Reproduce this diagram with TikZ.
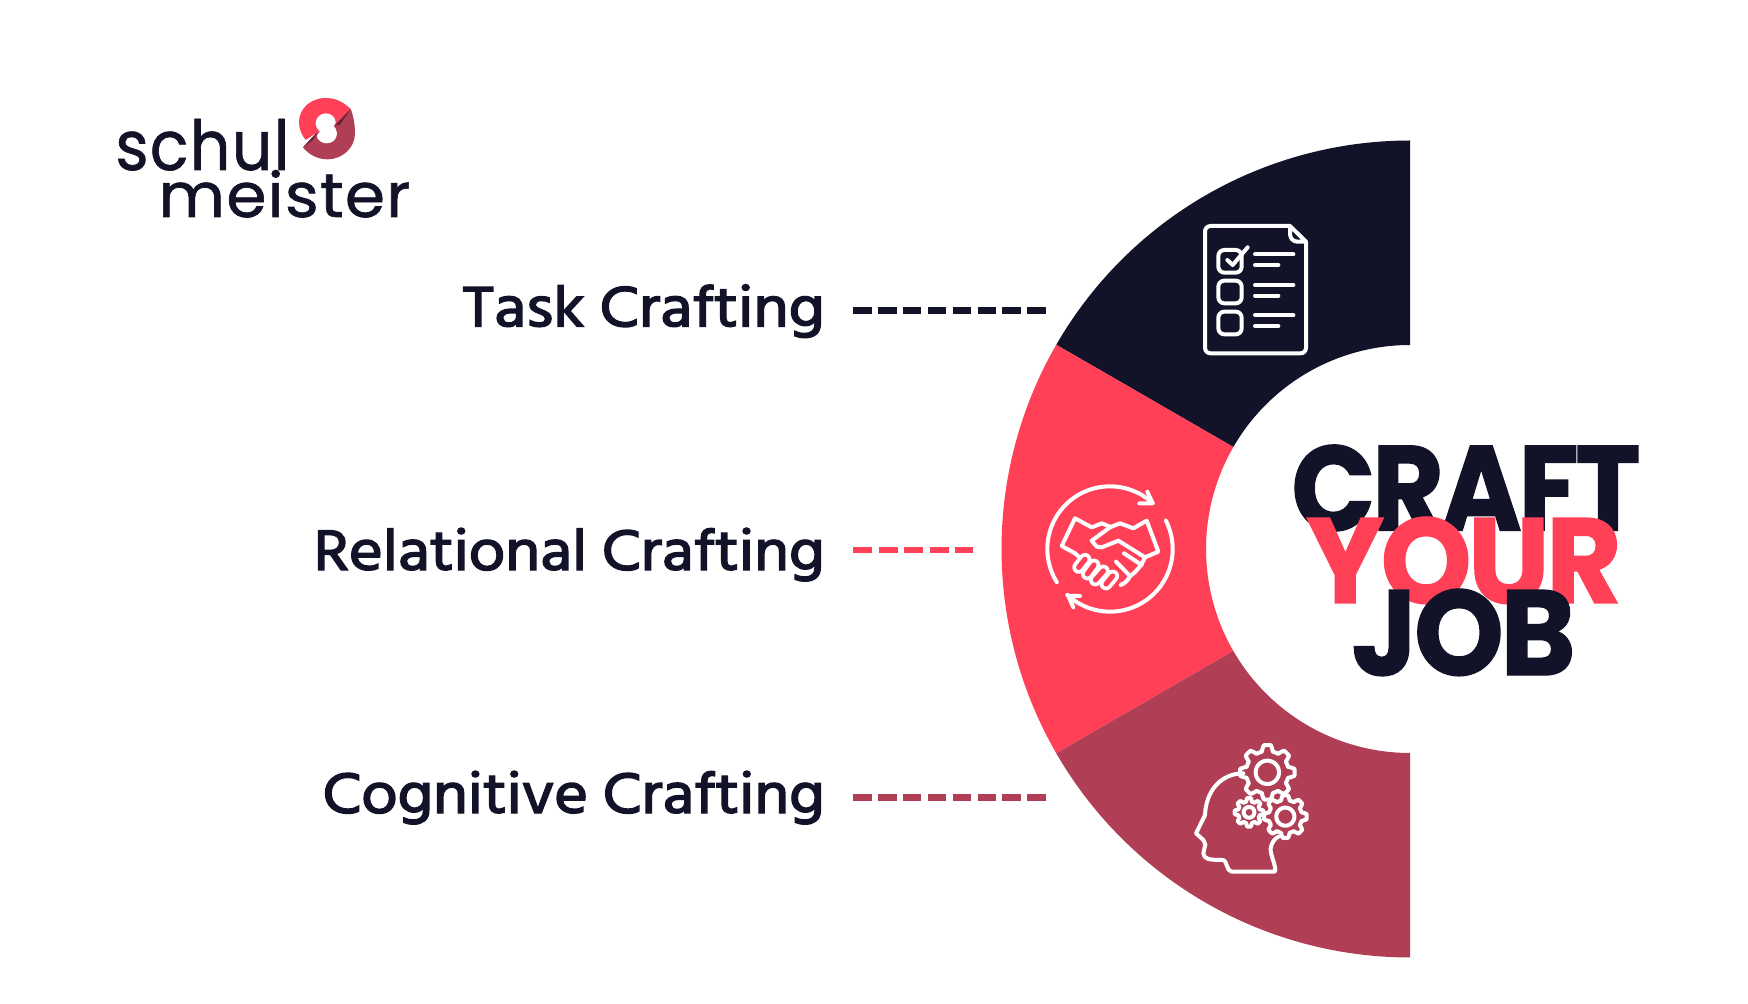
\documentclass[tikz,border=0pt]{standalone}
\usepackage{fontspec}
\usepackage{graphicx}
\setmainfont{Poppins}
\newfontfamily\labelfont{Hind Siliguri}[FakeBold=2.4]
\newfontfamily\titlefont{Poppins}[UprightFont=* Bold,LetterSpace=-3,FakeBold=1.2]
\newfontfamily\logofont{Poppins}[FakeBold=1.0,LetterSpace=2]
\definecolor{inkdark}{HTML}{121328}
\definecolor{redpink}{HTML}{FF4057}
\definecolor{maroon}{HTML}{B03F55}
\definecolor{darkwine}{HTML}{6E2036}
\newcommand{\sector}[3]{\fill[#1] plot[domain=#2:#3,samples=90] ({1410+408.5*cos(\x)},{549-408.5*sin(\x)}) -- plot[domain=#3:#2,samples=60] ({1410+204*cos(\x)},{549-204*sin(\x)}) -- cycle;}
\tikzset{
  x=0.5pt,y=-0.5pt,
  iconline/.style={draw=white,line width=2pt,line cap=round,line join=round},
  craftlabel/.style={inner sep=0,anchor=base east,text=inkdark,font=\labelfont},
  titleword/.style={inner sep=0,anchor=base west,font=\titlefont},
  logoword/.style={inner sep=0,anchor=base west,text=inkdark,font=\logofont},
  dashline/.style={line width=3.3pt,dash pattern=on 9.3pt off 3.15pt},
}
\begin{document}
\begin{tikzpicture}
\useasboundingbox (0,0) rectangle (1748,1004);
\fill[white] (0,0) rectangle (1748,1004);
% ring
\sector{inkdark}{90}{150}
\sector{redpink}{150}{210}
\sector{maroon}{210}{270}
% labels
\node[craftlabel] (task) at (825,326.5) {\resizebox{181pt}{21pt}{Task Crafting}};
\node[craftlabel] (rel) at (825,570) {\resizebox{255.5pt}{21pt}{Relational Crafting}};
\node[craftlabel] (cog) at (825,813) {\resizebox{251pt}{21pt}{Cognitive Crafting}};
% dashes
\coordinate (taskS) at (853,310.5); \coordinate (taskE) at (1046,310.5);
\coordinate (relS) at (853,550); \coordinate (relE) at (973,550);
\coordinate (cogS) at (853,797.5); \coordinate (cogE) at (1046,797.5);
\draw[dashline,draw=inkdark] (taskS) -- (taskE);
\draw[dashline,draw=redpink,dash pattern=on 9.5pt off 3.25pt] (relS) -- (relE);
\draw[dashline,draw=maroon] (cogS) -- (cogE);
% title
\node[titleword,text=inkdark] (craft) at (1291,530.5) {\resizebox{174.5pt}{42.8pt}{CRAFT}};
\node[titleword,text=redpink] (your) at (1306,603) {\resizebox{157.5pt}{43pt}{YOUR}};
\node[titleword,text=inkdark] (job) at (1351,675) {\resizebox{112pt}{43pt}{JOB}};
% logo text
\node[logoword] (schul) at (115,170) {\resizebox{87pt}{25.5pt}{schul}};
\node[logoword] (meister) at (158,217) {\resizebox{126pt}{23.5pt}{meister}};
% logo symbol
\begin{scope}[shift={(285,90)},scale=1/3]
 \fill[redpink] (197,57) .. controls (175,35) and (150,24) .. (122,24) .. controls (75,24) and (42,58) .. (42,96) .. controls (42,118) and (50,135) .. (62,150) -- (100,125) -- (152,100) -- cycle;
 \fill[maroon] (197,57) .. controls (205,75) and (210,105) .. (210,130) .. controls (210,175) and (170,208) .. (128,208) .. controls (95,208) and (70,192) .. (54,172) -- (95,128) -- (152,100) -- cycle;
 \fill[darkwine] (197,57) -- (150,106) -- (165,104) -- cycle;
 \fill[darkwine] (54,172) -- (96,127) -- (86,148) -- cycle;
 \fill[white] (122,70) .. controls (105,70) and (92,85) .. (92,100) .. controls (92,112) and (100,120) .. (105,125) .. controls (98,130) and (94,138) .. (96,142) .. controls (102,155) and (115,160) .. (125,160) .. controls (142,160) and (156,148) .. (156,130) .. controls (156,120) and (150,112) .. (146,108) .. controls (150,105) and (152,100) .. (152,96) .. controls (150,80) and (138,70) .. (122,70) -- cycle;
\end{scope}
% checklist icon
\begin{scope}[shift={(1180,210)},scale=1/3]
 \draw[iconline] (330,48) -- (92,48) .. controls (82,48) and (75,55) .. (75,65) -- (75,413) .. controls (75,423) and (82,430) .. (92,430) -- (361,430) .. controls (371,430) and (378,423) .. (378,413) -- (378,95) -- (330,48) -- (330,72) .. controls (330,85) and (340,95) .. (352,95) -- (378,95);
 \foreach \yy in {120,212,305} \draw[iconline,rounded corners=3pt] (115,\yy) rectangle (185,\yy+68);
 \draw[iconline] (142,150) -- (158,165) -- (203,112);
 \foreach \yy in {133,225,316} {
  \draw[iconline] (225,\yy) -- (340,\yy);
  \draw[iconline] (225,\yy+32) -- (295,\yy+32);
 }
\end{scope}
% handshake icon
\begin{scope}[shift={(1030,470)},scale=1/3]
 \draw[iconline] plot[domain=212:47,samples=60] ({240+188*cos(\x)},{237-188*sin(\x)});
 \draw[iconline] (352,65) -- (368,100) -- (328,100);
 \draw[iconline] plot[domain=27:-133,samples=60] ({240+188*cos(\x)},{237-188*sin(\x)});
 \draw[iconline] (150,378) -- (115,378) -- (130,412);
 % cuffs and hands
 \draw[iconline] (135,250) -- (95,228) -- (135,145) -- (185,172) -- (215,160) -- (240,170);
 \draw[iconline] (345,262) -- (385,245) -- (350,152) -- (310,175) -- (270,160) -- (240,172) -- (185,212) -- (200,230) -- (215,232) -- (265,212) -- (345,262) .. controls (335,285) and (320,305) .. (300,318) -- (258,275);
 \draw[iconline] (282,250) -- (335,285);
 \draw[iconline] (300,318) .. controls (295,330) and (285,340) .. (272,345);
 \draw[iconline] (135,250) -- (148,262);
 % fingers
 \foreach \ax/\ay/\bx/\by in {165/268/146/292,192/285/172/312,220/303/196/330,248/318/228/342}{
  \draw[line width=6.4pt,line cap=round,white] (\ax,\ay) -- (\bx,\by);
  \draw[line width=2.6pt,line cap=round,redpink] (\ax,\ay) -- (\bx,\by);
 }
\end{scope}
% head icon
\begin{scope}[shift={(1180,735)},scale=1/3]
 \draw[iconline] (190,115) .. controls (125,115) and (78,165) .. (75,240) -- (48,295) -- (70,315) -- (76,328) -- (70,355) .. controls (72,372) and (85,375) .. (130,375) .. controls (140,375) and (140,410) .. (155,410) -- (285,410) .. controls (290,395) and (270,360) .. (272,340) .. controls (274,325) and (282,312) .. (295,305);
 \foreach \cx/\cy/\ro/\ri/\rh/\nn in {262/112/82/64/35/8,316/245/64/50/27/8,207/232/43/33/16/8}{
  \draw[iconline] plot[domain=0:360,samples=97] ({\cx+(((\ro+\ri)/2+(\ro-\ri)/2*max(-1,min(1,2.2*cos(\nn*\x))))*cos(\x))},{\cy-(((\ro+\ri)/2+(\ro-\ri)/2*max(-1,min(1,2.2*cos(\nn*\x))))*sin(\x))}) -- cycle;
  \draw[iconline] plot[domain=0:360,samples=49] ({\cx+\rh*cos(\x)},{\cy-\rh*sin(\x)}) -- cycle;
 }
\end{scope}
\end{tikzpicture}
\end{document}
